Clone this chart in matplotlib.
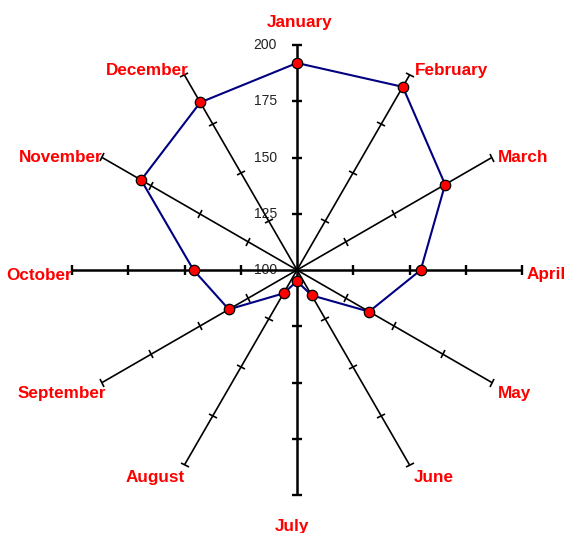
import numpy as np
import matplotlib
matplotlib.use('Agg')
import matplotlib.pyplot as plt
from matplotlib.markers import MarkerStyle
from matplotlib.transforms import Affine2D

# ---- data ----
months = ['January', 'February', 'March', 'April', 'May', 'June',
          'July', 'August', 'September', 'October', 'November', 'December']
values = [192, 194, 176, 155, 137, 113, 105, 112, 135, 146, 180, 186]
r_ticks = [100, 125, 150, 175, 200]
r_min, r_max = 100, 200

plt.rcParams['font.family'] = ['Liberation Sans', 'DejaVu Sans']

fig = plt.figure(figsize=(5.67, 5.33), dpi=100)
ax = fig.add_axes([72 / 567, 38 / 533, 450 / 567, 450 / 533], projection='polar')
ax.set_theta_zero_location('N')
ax.set_theta_direction(-1)
ax.set_ylim(r_min, r_max)
ax.axis('off')

n = len(months)
theta = np.arange(n) * 2 * np.pi / n
deg = np.degrees(theta)

# spokes with ticks
for i in range(n):
    axis_aligned = (round(deg[i]) % 90 == 0)
    lw = 1.8 if axis_aligned else 1.2
    ax.plot([theta[i], theta[i]], [r_min, r_max], color='black', lw=lw,
            clip_on=False, zorder=2, solid_capstyle='butt')
    ms = 7 if axis_aligned else 6
    mew = 1.7 if axis_aligned else 1.2
    mk = MarkerStyle('_', transform=Affine2D().rotate_deg(-deg[i]))
    ax.plot([theta[i]] * (len(r_ticks) - 1), r_ticks[1:], linestyle='none',
            marker=mk, ms=ms, mew=mew, color='black', clip_on=False, zorder=2)

# data series
th_closed = np.append(theta, theta[0])
v_closed = values + [values[0]]
ax.plot(th_closed, v_closed, color='#000080', lw=1.5, clip_on=False, zorder=3)
ax.plot(theta, values, linestyle='none', marker='o', ms=7.5,
        markerfacecolor='#ff0000', markeredgecolor='black', mew=0.9,
        clip_on=False, zorder=4)

# radial value labels
for r in r_ticks:
    ax.annotate(str(r), xy=(0, r), xytext=(-20, 0), textcoords='offset pixels',
                ha='right', va='center', fontsize=10, color='#222222',
                annotation_clip=False, zorder=1)

# category labels
offsets = [(3, 22), (5, 5), (6, 0), (5, -5), (6, -11), (4, -13),
           (-5, -31), (0, -13), (4, -11), (0, -6), (0, 0), (4, 5)]
for i, m in enumerate(months):
    s = np.sin(theta[i])
    if abs(s) < 1e-6:
        ha = 'center'
    elif s > 0:
        ha = 'left'
    else:
        ha = 'right'
    ax.annotate(m, xy=(theta[i], r_max), xytext=offsets[i],
                textcoords='offset pixels', ha=ha, va='center',
                fontsize=12.3, fontweight='bold', color='#ff0000',
                annotation_clip=False, zorder=5)

fig.savefig('out.png', dpi=100)
